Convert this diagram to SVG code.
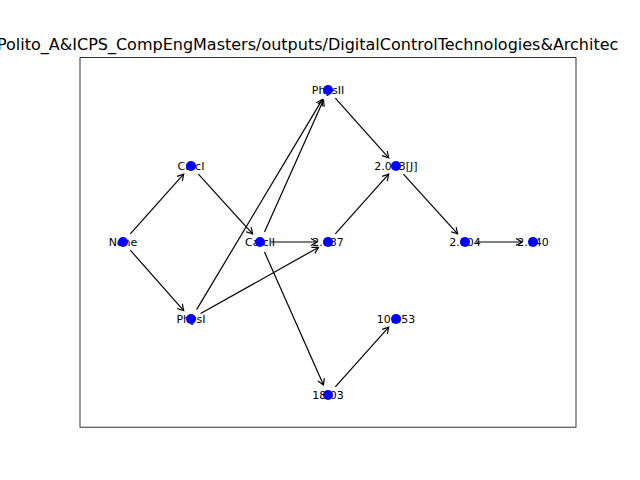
<svg xmlns="http://www.w3.org/2000/svg" width="640" height="480" viewBox="0 0 640 480">
<defs>
<marker id="arr" markerWidth="10" markerHeight="10" refX="7" refY="4" orient="auto" markerUnits="userSpaceOnUse">
<path d="M1,0.5 L7,4 L1,7.5" fill="none" stroke="#000" stroke-width="1.2"/>
</marker>
<style>
.lbl{font-family:"DejaVu Sans",sans-serif;font-size:11px;text-anchor:middle;dominant-baseline:central;fill:#000}
.nd{fill:#0000ff}
.ed line{stroke:#000;stroke-width:1.2;marker-end:url(#arr)}
</style>
</defs>
<rect width="640" height="480" fill="#fff"/>
<rect x="80" y="57.6" width="496" height="369.6" fill="none" stroke="#000" stroke-width="0.8"/>
<text x="-3" y="50" font-family="DejaVu Sans, sans-serif" font-size="16px">Polito_A&amp;ICPS_CompEngMasters/outputs/DigitalControlTechnologies&amp;Architec</text>
<g id="labels">
<text class="lbl" x="123" y="242">None</text>
<text class="lbl" x="191" y="166">CalcI</text>
<text class="lbl" x="191" y="319">PhysI</text>
<text class="lbl" x="260" y="242">CalcII</text>
<text class="lbl" x="328" y="90">PhysII</text>
<text class="lbl" x="328" y="242">2.087</text>
<text class="lbl" x="328" y="395">18.03</text>
<text class="lbl" x="396" y="166">2.003[J]</text>
<text class="lbl" x="396" y="319">10.053</text>
<text class="lbl" x="465" y="242">2.004</text>
<text class="lbl" x="533" y="242">2.140</text>
</g>
<g id="edges" class="ed">
<line x1="130.3" y1="233.8" x2="183.7" y2="174.2"/>
<line x1="130.3" y1="250.2" x2="183.7" y2="310.7"/>
<line x1="198.4" y1="174.2" x2="252.6" y2="233.8"/>
<line x1="271" y1="242" x2="317" y2="242"/>
<line x1="264.5" y1="232" x2="323.5" y2="100"/>
<line x1="264.5" y1="252" x2="323.5" y2="385"/>
<line x1="196.6" y1="309.6" x2="322.4" y2="99.4"/>
<line x1="200.6" y1="313.6" x2="318.4" y2="247.4"/>
<line x1="335.3" y1="98.2" x2="388.7" y2="157.8"/>
<line x1="335.3" y1="233.8" x2="388.7" y2="174.2"/>
<line x1="403.4" y1="174.2" x2="457.6" y2="233.8"/>
<line x1="476" y1="242" x2="522" y2="242"/>
<line x1="335.3" y1="386.8" x2="388.7" y2="327.2"/>
</g>
<g id="n-None"><circle class="nd" cx="123" cy="242" r="5"/></g>
<g id="n-CalcI"><circle class="nd" cx="191" cy="166" r="5"/></g>
<g id="n-PhysI"><circle class="nd" cx="191" cy="319" r="5"/></g>
<g id="n-CalcII"><circle class="nd" cx="260" cy="242" r="5"/></g>
<g id="n-PhysII"><circle class="nd" cx="328" cy="90" r="5"/></g>
<g id="n-2087"><circle class="nd" cx="328" cy="242" r="5"/></g>
<g id="n-1803"><circle class="nd" cx="328" cy="395" r="5"/></g>
<g id="n-2003J"><circle class="nd" cx="396" cy="166" r="5"/></g>
<g id="n-10053"><circle class="nd" cx="396" cy="319" r="5"/></g>
<g id="n-2004"><circle class="nd" cx="465" cy="242" r="5"/></g>
<g id="n-2140"><circle class="nd" cx="533" cy="242" r="5"/></g>
</svg>
